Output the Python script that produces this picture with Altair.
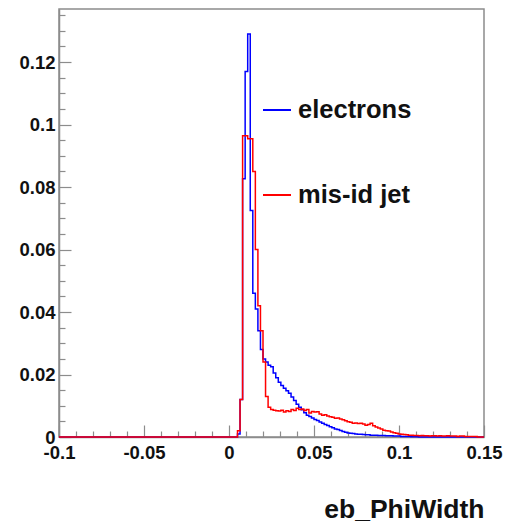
import altair as alt
import pandas as pd

# ---- histogram data (bin width 0.0015, first listed bin starts at 0.005) ----
bin_width = 0.0015
first_edge = 0.005
x_min, x_max = -0.1, 0.15
y_max = 0.137

electrons = [
    0.001, 0.012, 0.0827, 0.117, 0.129, 0.0725, 0.046, 0.041, 0.034, 0.028,
    0.025, 0.024, 0.023, 0.0225, 0.0205, 0.019, 0.0175, 0.0165, 0.0156, 0.0148,
    0.0140, 0.0128, 0.0117, 0.0105, 0.0095, 0.0087, 0.0078, 0.0070, 0.0066, 0.0061,
    0.0056, 0.0053, 0.0048, 0.0044, 0.0040, 0.0037, 0.0033, 0.0030, 0.0026, 0.0024,
    0.0021, 0.0018, 0.0015, 0.0013, 0.0012, 0.0011, 0.0010, 0.0009, 0.0009, 0.0008,
    0.0007, 0.0007, 0.0006, 0.0006, 0.0006, 0.0005, 0.0005, 0.0005, 0.0004, 0.0004,
    0.0004, 0.0003, 0.0003, 0.0003, 0.0002, 0.0002, 0.0002, 0.0002, 0.0001, 0.0001,
    0.0001,
]
misid = [
    0.002, 0.012, 0.0964, 0.0964, 0.0955, 0.0955, 0.085, 0.060, 0.042, 0.034,
    0.024, 0.013, 0.0095, 0.0088, 0.0086, 0.0084, 0.0083, 0.0086, 0.0080, 0.0084,
    0.0082, 0.0088, 0.0085, 0.0092, 0.0088, 0.0090, 0.0085, 0.0088, 0.0077, 0.0082,
    0.0080, 0.0081, 0.0074, 0.0070, 0.0071, 0.0067, 0.0065, 0.0063, 0.0060, 0.0061,
    0.0058, 0.0055, 0.0052, 0.0049, 0.0047, 0.0044, 0.0045, 0.0043, 0.0044, 0.0042,
    0.0038, 0.0040, 0.0044, 0.0036, 0.0032, 0.0029, 0.0026, 0.0022, 0.0020, 0.0019,
    0.0016, 0.0014, 0.0012, 0.0010, 0.0009, 0.0008, 0.0007, 0.0006, 0.0006, 0.0005,
    0.0005, 0.0004, 0.0005, 0.0004, 0.0004, 0.0003, 0.0004, 0.0004, 0.0003, 0.0004,
    0.0003, 0.0003, 0.0004, 0.0003, 0.0003, 0.0003, 0.0002, 0.0003, 0.0003, 0.0002,
    0.0002, 0.0002, 0.0002, 0.0002,
]
series_names = ["electrons", "mis-id jet"]
series_colors = ["#0000ff", "#ff0000"]

x_major = [-0.1, -0.05, 0.0, 0.05, 0.1, 0.15]
x_minor = [-0.09, -0.08, -0.07, -0.06, -0.04, -0.03, -0.02, -0.01,
           0.01, 0.02, 0.03, 0.04, 0.06, 0.07, 0.08, 0.09,
           0.11, 0.12, 0.13, 0.14]
y_major = [0.0, 0.02, 0.04, 0.06, 0.08, 0.1, 0.12]
y_minor = [0.005, 0.01, 0.015, 0.025, 0.03, 0.035, 0.045, 0.05, 0.055,
           0.065, 0.07, 0.075, 0.085, 0.09, 0.095, 0.105, 0.11, 0.115,
           0.125, 0.13, 0.135]

# ---- build step-line table ----
rows = []
for name, vals in zip(series_names, [electrons, misid]):
    rows.append({"x": x_min, "y": 0.0, "series": name, "order": 0})
    for i, v in enumerate(vals):
        rows.append({"x": first_edge + i * bin_width, "y": v, "series": name, "order": i + 1})
    rows.append({"x": first_edge + len(vals) * bin_width, "y": 0.0, "series": name, "order": len(vals) + 1})
    rows.append({"x": x_max, "y": 0.0, "series": name, "order": len(vals) + 2})
df = pd.DataFrame(rows)

FONT = "Liberation Sans"
TXT = "#111111"
AX = "#8c8c8c"

xs = alt.Scale(domain=[x_min, x_max], nice=False, zero=False)
ys = alt.Scale(domain=[0, y_max], nice=False, zero=False)
color = alt.Color(
    "series:N",
    scale=alt.Scale(domain=series_names, range=series_colors),
    legend=alt.Legend(
        title=None, orient="none", legendX=203, legendY=86,
        symbolType="stroke", symbolSize=784, symbolStrokeWidth=2,
        labelFont=FONT, labelFontSize=25.5, labelFontWeight="bold", labelColor=TXT,
        labelOffset=6, rowPadding=56, padding=0,
    ),
)

x_label_expr = "datum.value < 0 ? '-' + format(-datum.value, '~g') : format(datum.value, '~g')"

bottom_axis = alt.Axis(
    values=x_major, labelExpr=x_label_expr, ticks=False, grid=False,
    domainColor=AX, domainWidth=1.5,
    labelFont=FONT, labelFontSize=18.5, labelFontWeight="bold", labelColor=TXT,
    labelPadding=6, labelFlush=False, labelOverlap=False,
    title="eb_PhiWidth", titleFont=FONT, titleFontSize=26.5, titleFontWeight="bold",
    titleColor=TXT, titleAlign="right", titleAnchor="end", titleX=425, titleY=80,
    titleBaseline="alphabetic",
)
left_axis = alt.Axis(
    values=y_major, labelExpr="format(datum.value, '~g')", ticks=False, grid=False,
    domainColor=AX, domainWidth=1.5,
    labelFont=FONT, labelFontSize=18.5, labelFontWeight="bold", labelColor=TXT,
    labelPadding=4, labelFlush=False, labelOverlap=False, title=None,
)
top_major = alt.Axis(orient="top", offset=-428, values=x_major, labels=False, domain=False,
                     grid=False, tickSize=12, tickColor=AX, tickWidth=1.2, title=None)
right_major = alt.Axis(orient="right", offset=-425, values=y_major, labels=False, domain=False,
                       grid=False, tickSize=12, tickColor=AX, tickWidth=1.2, title=None)
top_minor = alt.Axis(orient="top", offset=-428, values=x_minor, labels=False, domain=False,
                     grid=False, tickSize=6, tickColor=AX, tickWidth=1.2, title=None)
right_minor = alt.Axis(orient="right", offset=-425, values=y_minor, labels=False, domain=False,
                       grid=False, tickSize=6, tickColor=AX, tickWidth=1.2, title=None)

base = alt.Chart(df)

blue = base.transform_filter(alt.datum.series == series_names[0]).mark_line(
    interpolate="step-after", strokeWidth=1.5
).encode(
    x=alt.X("x:Q", scale=xs, axis=bottom_axis),
    y=alt.Y("y:Q", scale=ys, axis=left_axis),
    color=color,
    order="order:Q",
)
red = base.transform_filter(alt.datum.series == series_names[1]).mark_line(
    interpolate="step-after", strokeWidth=1.5
).encode(
    x=alt.X("x:Q", scale=xs, axis=top_major),
    y=alt.Y("y:Q", scale=ys, axis=right_major),
    color=color,
    order="order:Q",
)
minor = base.mark_point(opacity=0, size=1).encode(
    x=alt.X("x:Q", scale=xs, axis=top_minor),
    y=alt.Y("y:Q", scale=ys, axis=right_minor),
)

chart = alt.layer(blue, red, minor).resolve_axis(
    x="independent", y="independent"
).properties(
    width=425, height=428,
    autosize=alt.AutoSizeParams(type="none"),
    padding={"left": 59, "top": 9, "right": 25, "bottom": 88},
    background="white",
).configure_view(stroke=AX, strokeWidth=1.5)

chart.save("out.html", embed_options={"renderer": "svg", "actions": False})
